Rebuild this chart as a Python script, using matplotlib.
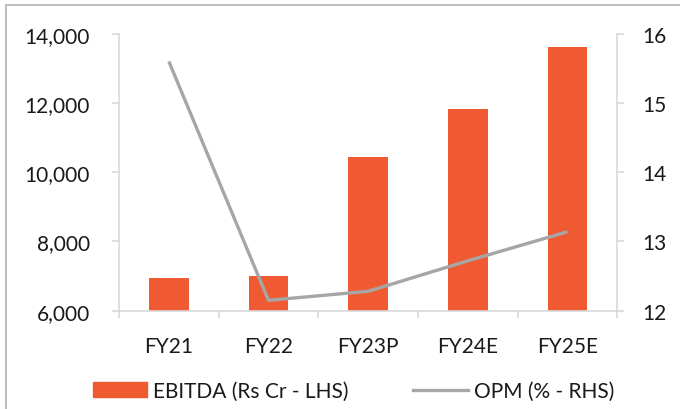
import matplotlib.pyplot as plt
from matplotlib.lines import Line2D
from matplotlib.patches import Patch

years = ["FY21", "FY22", "FY23P", "FY24E", "FY25E"]
ebitda = [6945, 7010, 10430, 11825, 13625]
opm = [15.60, 12.15, 12.28, 12.72, 13.14]

bar_color = "#F05A32"
line_color = "#A6A6A6"
axis_color = "#D9D9D9"
text_color = "#1A1A1A"

plt.rcParams["font.family"] = ["Lato", "DejaVu Sans"]
plt.rcParams["font.size"] = 15

fig = plt.figure(figsize=(6.8, 4.1), dpi=100)
ax = fig.add_axes([119 / 680, 1 - 311.7 / 410, (617.3 - 119) / 680, (311.7 - 34.7) / 410])
ax2 = ax.twinx()

x = list(range(len(years)))
ax.bar(x, ebitda, width=0.4, color=bar_color, zorder=2)
ax2.plot(x, opm, color=line_color, linewidth=2.4, solid_capstyle="butt")

ax.set_xlim(-0.5, len(years) - 0.5)
ax.set_ylim(6000, 14000)
ax.set_yticks([6000, 8000, 10000, 12000, 14000])
ax.set_yticklabels([f"{v:,}" for v in [6000, 8000, 10000, 12000, 14000]])
ax2.set_ylim(12, 16)
ax2.set_yticks([12, 13, 14, 15, 16])

ax.set_xticks(x)
ax.set_xticklabels(years)
ax.tick_params(axis="x", which="major", length=0, pad=18, colors=text_color)
ax.set_xticks([i - 0.5 for i in range(len(years) + 1)], minor=True)
ax.tick_params(axis="x", which="minor", length=5, color=axis_color, width=1.2)
ax.tick_params(axis="y", length=5, color=axis_color, width=1.2, pad=16, labelcolor=text_color)
ax2.tick_params(axis="y", length=5, color=axis_color, width=1.2, pad=13, labelcolor=text_color)

for a in (ax, ax2):
    a.spines["top"].set_visible(False)
    for s in ("left", "right", "bottom"):
        a.spines[s].set_color(axis_color)
        a.spines[s].set_linewidth(1.2)
ax.spines["right"].set_visible(False)
ax2.spines["left"].set_visible(False)
ax2.spines["bottom"].set_visible(False)

handles = [Patch(color=bar_color), Line2D([0], [0], color=line_color, linewidth=2.4)]
labels = ["EBITDA (Rs Cr - LHS)", "OPM (% - RHS)"]
fig.legend(handles, labels, loc="center", bbox_to_anchor=(0.52, 1 - 392 / 410), ncol=2,
           frameon=False, handlelength=2.6, handleheight=0.7, handletextpad=0.3,
           columnspacing=3.1, labelcolor=text_color)

# outer frame (only top and left edges visible in the crop)
fig.add_artist(Line2D([5.5 / 680, 5.5 / 680], [0, 1 - 5.5 / 410], color="#BFBFBF", linewidth=1.5))
fig.add_artist(Line2D([5.5 / 680, 1], [1 - 5.5 / 410, 1 - 5.5 / 410], color="#BFBFBF", linewidth=1.5))

fig.savefig("out.png", dpi=100)
